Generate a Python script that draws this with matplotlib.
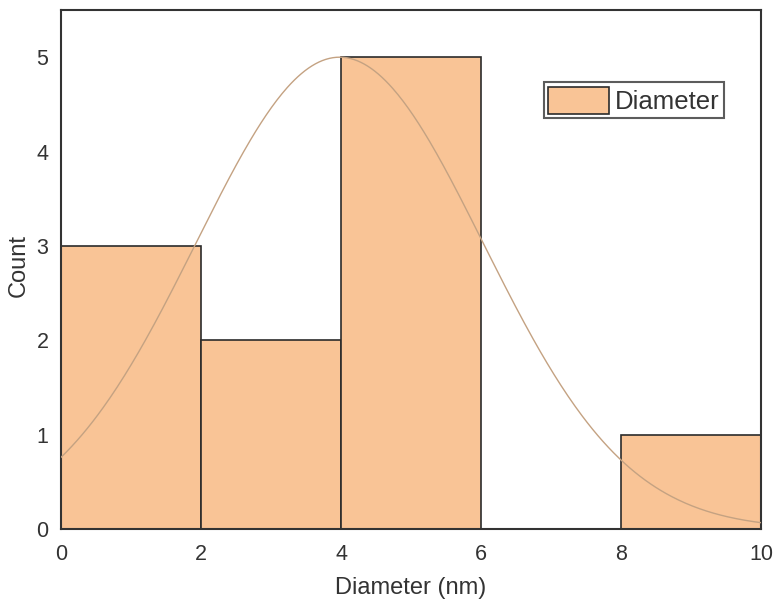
import numpy as np
import matplotlib.pyplot as plt

plt.rcParams['font.family'] = ['Liberation Sans', 'DejaVu Sans']

# Histogram of particle diameters
bin_edges = [0, 2, 4, 6, 8, 10]
counts = [3, 2, 5, 0, 1]

# Gaussian fit parameters
fit_amp = 5.0
fit_center = 3.98
fit_sigma = 2.05

fig = plt.figure(figsize=(7.78, 6.07), dpi=100)
ax = fig.add_axes([61 / 778, 78 / 607, 700 / 778, 519 / 607])

lefts = bin_edges[:-1]
widths = np.diff(bin_edges)
ax.bar(lefts, counts, width=widths, align='edge', color='#F9C496',
       edgecolor='#2b2b2b', linewidth=1.2, label='Diameter', zorder=2)

x = np.linspace(0, 10, 400)
y = fit_amp * np.exp(-(x - fit_center) ** 2 / (2 * fit_sigma ** 2))
ax.plot(x, y, color='#C4A282', linewidth=1.0, zorder=3)

ax.set_xlim(0, 10)
ax.set_ylim(0, 5.5)
ax.set_xticks([0, 2, 4, 6, 8, 10])
ax.set_yticks([0, 1, 2, 3, 4, 5])
ax.tick_params(length=0, labelsize=15.5, colors='#333333')
ax.tick_params(axis='x', pad=11)
ax.tick_params(axis='y', pad=9)
for s in ax.spines.values():
    s.set_color('#333333')
    s.set_linewidth(1.5)

ax.set_xlabel('Diameter (nm)', fontsize=17, color='#333333')
ax.set_ylabel('Count', fontsize=17, color='#333333')
ax.xaxis.set_label_coords(0.5, -0.092)
ax.yaxis.set_label_coords(-0.045, 0.507)

leg = ax.legend(loc='upper left', bbox_to_anchor=(0.69, 0.861), fontsize=18.5,
                frameon=True, fancybox=False, handlelength=2.35, handleheight=1.25,
                borderpad=0.17, handletextpad=0.25, borderaxespad=0)
leg.get_frame().set_edgecolor('#333333')
leg.get_frame().set_linewidth(1.5)
for t in leg.get_texts():
    t.set_color('#333333')

fig.savefig('out.png', dpi=100)
